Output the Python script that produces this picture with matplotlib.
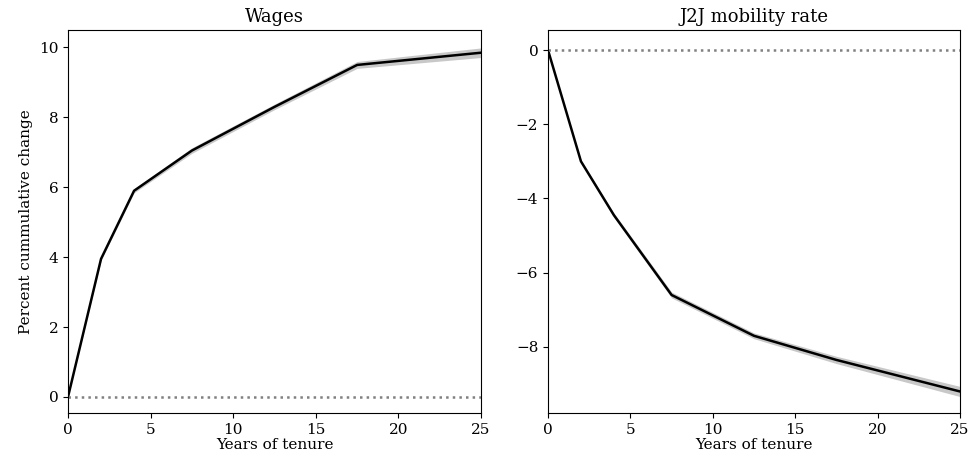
import numpy as np
import matplotlib
matplotlib.use("Agg")
import matplotlib.pyplot as plt

plt.rcParams['font.family'] = 'DejaVu Serif'
plt.rcParams['font.size'] = 11

tenure = [0, 2, 4, 7.5, 12.5, 17.5, 25]
wages = [0, 3.95, 5.9, 7.05, 8.3, 9.5, 9.85]
wages_se = [0, 0.02, 0.03, 0.04, 0.04, 0.05, 0.07]
j2j = [0, -3.0, -4.45, -6.6, -7.7, -8.35, -9.2]
j2j_se = [0, 0.02, 0.03, 0.04, 0.04, 0.05, 0.07]

fig = plt.figure(figsize=(9.71, 4.7), dpi=100)
ax1 = fig.add_axes([68/971, 57/470, 413/971, 383/470])
ax2 = fig.add_axes([548/971, 57/470, 412/971, 383/470])

for ax, y, se, title in [(ax1, wages, wages_se, "Wages"), (ax2, j2j, j2j_se, "J2J mobility rate")]:
    y = np.array(y); se = np.array(se)
    ax.fill_between(tenure, y - 1.96*se, y + 1.96*se, color='#c8c8c8', lw=0)
    ax.plot(tenure, y, color='black', lw=1.8)
    ax.axhline(0, color='grey', ls=':', lw=1.8)
    ax.set_title(title, fontsize=13)
    ax.set_xlabel("Years of tenure", labelpad=1)
    ax.set_xlim(0, 25)
    ax.set_xticks([0, 5, 10, 15, 20, 25])

ax1.set_ylim(-0.46, 10.5)
ax1.set_yticks([0, 2, 4, 6, 8, 10])
ax1.set_ylabel("Percent cummulative change")
ax2.set_ylim(-9.78, 0.54)
ax2.set_yticks([0, -2, -4, -6, -8])

fig.savefig("out.png", dpi=100)
